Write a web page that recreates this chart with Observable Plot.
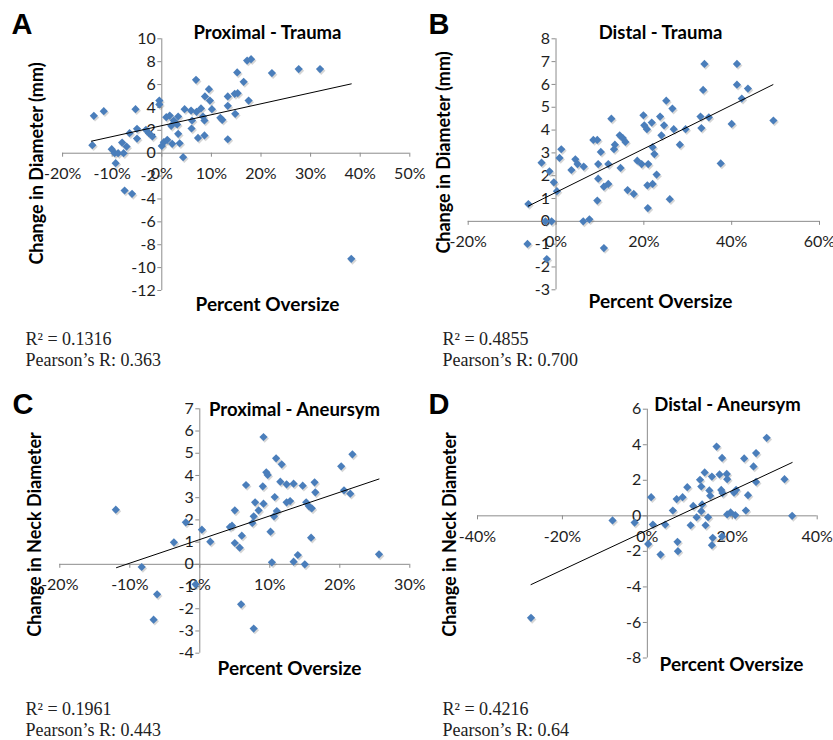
<!DOCTYPE html>
<html>
<head>
<meta charset="utf-8">
<script src="https://cdn.jsdelivr.net/npm/d3@7"></script>
<script src="https://cdn.jsdelivr.net/npm/@observablehq/plot@0.6"></script>
<style>
  body { margin: 0; background: #fff; }
  #chart { position: relative; width: 833px; height: 740px; overflow: hidden; background: #fff; }
  #chart > div { position: absolute; }
</style>
</head>
<body>
<div id="chart"></div>
<script>
// ---------- DATA ----------
// A: Proximal - Trauma (x = percent oversize, y = change in diameter, mm)
const proxTraumaX = [-13.7,-11.7,-14.0,-10.1,-9.5,-8.8,-9.3,-8.0,-7.1,-7.7,-6.5,-5.3,-5.0,-5.0,-3.2,-2.6,-1.9,-0.5,-0.5,0.0,0.4,0.9,1.6,1.9,1.1,2.1,2.4,3.1,3.3,3.3,3.6,4.3,4.6,5.9,6.0,6.1,6.9,7.0,7.3,7.9,8.3,8.6,8.7,8.6,9.5,9.7,10.1,11.8,12.2,13.3,13.3,13.3,14.7,15.3,14.8,15.2,16.5,17.2,18.0,17.5,22.2,27.6,31.9,-7.5,-6.0,38.2];
const proxTraumaY = [3.27,3.67,0.70,0.35,0.0,0.0,-0.87,0.93,0.58,0.0,1.75,3.85,2.13,1.28,2.04,1.75,1.46,4.6,4.26,0.64,0.96,3.15,3.29,2.39,1.17,0.82,2.86,2.51,3.21,1.69,0.87,-0.35,3.85,3.73,2.16,2.86,6.41,3.62,1.34,3.91,3.21,1.55,4.96,2.86,5.6,4.6,3.85,3.09,2.92,4.14,4.96,1.22,5.19,5.25,3.44,7.06,6.24,8.1,8.22,4.6,7.0,7.35,7.35,-3.26,-3.55,-9.23];
const proxTraumaFitX = [-14.2, 38.2];
const proxTraumaFitY = [1.05, 6.06];
const proxTraumaXTicks = [-20,-10,0,10,20,30,40,50];
const proxTraumaYTicks = [-12,-10,-8,-6,-4,-2,0,2,4,6,8,10];
const proxTraumaStats = ["R² = 0.1316", "Pearson’s R: 0.363"];

// B: Distal - Trauma
const distTraumaX = [-3.3,-1.5,-0.5,0.2,0.8,1.2,3.5,4.4,4.9,6.3,8.5,9.4,9.6,10.2,9.6,10.9,11.9,11.9,12.6,13.2,13.4,14.5,15.2,15.8,14.7,16.3,17.7,18.5,19.5,19.9,20.1,20.7,21.0,21.8,22.0,22.4,20.8,22.0,22.9,23.7,24.6,24.0,25.1,26.5,26.8,28.2,29.5,25.9,32.9,33.1,33.5,33.8,34.8,37.5,40.0,41.2,41.2,42.3,43.7,49.5,-6.3,-2.4,-1.0,-6.5,-2.1,9.4,6.2,7.6,10.9,20.9];
const distTraumaY = [2.57,2.19,1.71,1.32,2.78,3.16,2.25,2.72,2.51,2.40,3.57,3.57,2.51,3.04,1.87,1.52,1.64,2.51,4.50,3.16,3.36,3.77,3.65,3.48,2.34,1.37,1.20,2.66,2.51,4.65,4.21,4.04,2.51,4.33,3.25,2.95,1.58,1.64,2.05,4.59,4.21,3.77,5.29,4.94,4.04,3.36,4.04,0.97,4.59,4.09,5.76,6.90,4.56,2.54,4.27,6.90,5.99,5.38,5.82,4.42,0.76,0.0,0.0,-0.99,-1.65,0.91,0.0,0.09,-1.17,0.58];
const distTraumaFitX = [-6.3, 49.4];
const distTraumaFitY = [0.67, 5.99];
const distTraumaXTicks = [-20,0,20,40,60];
const distTraumaYTicks = [-3,-2,-1,0,1,2,3,4,5,6,7,8];
const distTraumaStats = ["R² = 0.4855", "Pearson’s R: 0.700"];

// C: Proximal - Aneursym
const proxAneurX = [-12.0,-2.0,-3.7,0.3,1.5,4.3,4.6,5.0,5.0,5.7,6.0,6.6,7.5,7.7,7.9,8.4,9.0,9.1,9.1,9.5,9.7,10.1,10.3,10.7,10.6,10.9,11.0,11.5,11.7,12.4,12.4,12.9,13.4,13.4,14.0,14.7,15.0,15.2,15.6,16.0,15.9,16.4,16.5,20.2,20.6,21.5,21.8,25.6,-8.3,-6.1,-6.6,-0.6,5.9,7.7];
const proxAneurY = [2.46,1.89,0.99,1.56,1.02,1.68,1.74,2.43,0.96,0.75,1.29,3.57,1.86,2.16,2.79,2.43,3.51,2.73,5.73,4.14,4.02,1.47,0.09,3.03,2.16,4.77,2.40,3.72,4.50,3.60,2.79,2.85,3.63,0.12,0.42,3.54,0.0,2.79,2.61,2.52,1.20,3.69,3.24,4.41,3.33,3.18,4.95,0.45,-0.12,-1.35,-2.49,-0.90,-1.80,-2.89];
const proxAneurFitX = [-11.9, 25.6];
const proxAneurFitY = [-0.15, 3.84];
const proxAneurXTicks = [-20,-10,0,10,20,30];
const proxAneurYTicks = [-4,-3,-2,-1,0,1,2,3,4,5,6,7];
const proxAneurStats = ["R² = 0.1961", "Pearson’s R: 0.443"];

// D: Distal - Aneursym
const distAneurX = [-8.2,-3.0,0.9,1.3,0.2,3.1,4.2,6.0,6.9,8.3,7.1,7.2,9.4,10.2,10.8,11.6,12.4,12.7,12.9,12.7,13.5,13.7,14.3,14.6,14.8,15.2,15.2,15.4,16.3,17.0,17.4,17.6,17.7,17.6,18.7,18.8,18.8,19.6,20.4,20.7,20.9,22.8,23.2,23.7,25.0,25.6,25.6,28.1,32.3,34.1,-27.4];
const distAneurY = [-0.26,-0.38,1.05,-0.49,-1.58,-2.18,-0.49,0.30,0.94,1.05,-1.46,-1.99,1.61,-0.53,0.56,-0.08,2.03,1.65,0.64,0.26,2.44,-0.53,-0.08,1.43,1.13,2.21,-1.65,-1.24,3.90,2.33,1.46,3.26,1.28,-1.16,2.36,2.06,0.08,0.19,1.31,0.04,1.46,3.23,0.30,1.16,2.78,3.53,1.91,4.39,2.06,0.0,-5.74];
const distAneurFitX = [-27.4, 34.1];
const distAneurFitY = [-3.87, 3.0];
const distAneurXTicks = [-40,-20,0,20,40];
const distAneurYTicks = [-8,-6,-4,-2,0,2,4,6];
const distAneurStats = ["R² = 0.4216", "Pearson’s R: 0.64"];

const xAxisTitle = "Percent Oversize";

// ---------- LAYOUT / STYLE ----------
const markerColor = "#4A7EBB";
const axisColor = "#8c8c8c";
const textColor = "#1e1e1e";
const sansFont = "Lato, 'Open Sans', sans-serif";

const panels = [
  {letter: "A", title: "Proximal - Trauma", ylabel: "Change in Diameter (mm)",
   xs: proxTraumaX, ys: proxTraumaY, fitX: proxTraumaFitX, fitY: proxTraumaFitY,
   xTicks: proxTraumaXTicks, yTicks: proxTraumaYTicks, stats: proxTraumaStats,
   box: {left: 0, top: 0, width: 430, height: 370},
   xRange: [62.1, 409.3], yRange: [290, 38.3],
   letterPos: [11, 33], titlePos: [267, 38], ylabelPos: [37, 163], xlabelPos: [267, 310], statsPos: [25, 344]},
  {letter: "B", title: "Distal - Trauma", ylabel: "Change in Diameter (mm)",
   xs: distTraumaX, ys: distTraumaY, fitX: distTraumaFitX, fitY: distTraumaFitY,
   xTicks: distTraumaXTicks, yTicks: distTraumaYTicks, stats: distTraumaStats,
   box: {left: 430, top: 0, width: 403, height: 370},
   xRange: [37.7, 389], yRange: [289.3, 38.3],
   letterPos: [-2, 33], titlePos: [230, 38], ylabelPos: [14, 152], xlabelPos: [230, 307], statsPos: [12, 344]},
  {letter: "C", title: "Proximal - Aneursym", ylabel: "Change in Neck Diameter",
   xs: proxAneurX, ys: proxAneurY, fitX: proxAneurFitX, fitY: proxAneurFitY,
   xTicks: proxAneurXTicks, yTicks: proxAneurYTicks, stats: proxAneurStats,
   box: {left: 0, top: 370, width: 430, height: 370},
   xRange: [59.3, 409.3], yRange: [282.7, 38.3],
   letterPos: [12, 43], titlePos: [294, 45], ylabelPos: [35, 164], xlabelPos: [289, 304], statsPos: [25, 344]},
  {letter: "D", title: "Distal - Aneursym", ylabel: "Change in Neck Diameter",
   xs: distAneurX, ys: distAneurY, fitX: distAneurFitX, fitY: distAneurFitY,
   xTicks: distAneurXTicks, yTicks: distAneurYTicks, stats: distAneurStats,
   box: {left: 430, top: 370, width: 403, height: 370},
   xRange: [47, 386.7], yRange: [287.5, 38.7],
   letterPos: [-2, 43], titlePos: [297, 40], ylabelPos: [20, 164], xlabelPos: [301, 300], statsPos: [12, 344]}
];

function place(text, x, y, opts) {
  return Plot.text([text], {frameAnchor: "top-left", dx: x, dy: y, text: d => d, fill: textColor, ...opts});
}

function drawPanel(p) {
  const pts = p.xs.map((x, i) => ({x, y: p.ys[i]}));
  const fit = p.fitX.map((x, i) => ({x, y: p.fitY[i]}));
  const xmin = p.xTicks[0], xmax = p.xTicks[p.xTicks.length - 1];
  const ymin = p.yTicks[0], ymax = p.yTicks[p.yTicks.length - 1];
  const svg = Plot.plot({
    width: p.box.width,
    height: p.box.height,
    marginTop: 0, marginRight: 0, marginBottom: 0, marginLeft: 0,
    style: {background: "transparent", overflow: "visible"},
    x: {domain: [xmin, xmax], range: p.xRange, axis: null},
    y: {domain: [ymin, ymax], range: p.yRange, axis: null},
    marks: [
      // axes crossing at zero
      Plot.ruleY([0], {x1: xmin, x2: xmax, stroke: axisColor, strokeWidth: 1}),
      Plot.ruleX([0], {y1: ymin, y2: ymax, stroke: axisColor, strokeWidth: 1}),
      Plot.ruleX(p.xTicks, {x: d => d, y1: 0, y2: 0, insetTop: 0, insetBottom: -4, stroke: axisColor}),
      Plot.ruleY(p.yTicks, {y: d => d, x1: 0, x2: 0, insetLeft: -4, insetRight: 0, stroke: axisColor}),
      Plot.text(p.xTicks, {x: d => d, y: 0, text: d => `${d}%`, dy: 21, lineAnchor: "middle",
        fontFamily: sansFont, fontSize: 16, fill: textColor}),
      Plot.text(p.yTicks, {x: 0, y: d => d, text: d => String(d), dx: -6, textAnchor: "end", lineAnchor: "middle",
        fontFamily: sansFont, fontSize: 16, fill: textColor}),
      // markers with soft shadow
      Plot.dot(pts, {x: "x", y: "y", symbol: "diamond2", r: 3.8, fill: "#777", fillOpacity: 0.3, stroke: "none", dx: 1.2, dy: 1.6}),
      Plot.dot(pts, {x: "x", y: "y", symbol: "diamond2", r: 3.7, fill: markerColor, stroke: "none"}),
      // linear trendline
      Plot.line(fit, {x: "x", y: "y", stroke: "#000", strokeWidth: 1}),
      // texts
      place(p.letter, p.letterPos[0], p.letterPos[1], {fontFamily: "'Liberation Sans', Arial, sans-serif", fontWeight: "bold", fontSize: 29, textAnchor: "start", lineAnchor: "bottom", fill: "#000"}),
      place(p.title, p.titlePos[0], p.titlePos[1], {fontFamily: sansFont, fontWeight: "bold", fontSize: 18.5, textAnchor: "middle", lineAnchor: "bottom", fill: "#000"}),
      place(p.ylabel, p.ylabelPos[0], p.ylabelPos[1], {fontFamily: sansFont, fontWeight: "bold", fontSize: 18, textAnchor: "middle", lineAnchor: "middle", rotate: -90, fill: "#000"}),
      place(xAxisTitle, p.xlabelPos[0], p.xlabelPos[1], {fontFamily: sansFont, fontWeight: "bold", fontSize: 19, textAnchor: "middle", lineAnchor: "bottom", fill: "#000"}),
      place(p.stats[0], p.statsPos[0], p.statsPos[1], {fontFamily: "'Liberation Serif', 'Times New Roman', serif", fontSize: 18, textAnchor: "start", lineAnchor: "bottom", fill: "#222"}),
      place(p.stats[1], p.statsPos[0], p.statsPos[1] + 21, {fontFamily: "'Liberation Serif', 'Times New Roman', serif", fontSize: 18, textAnchor: "start", lineAnchor: "bottom", fill: "#222"})
    ]
  });
  const wrap = document.createElement("div");
  wrap.style.left = p.box.left + "px";
  wrap.style.top = p.box.top + "px";
  wrap.style.width = p.box.width + "px";
  wrap.style.height = p.box.height + "px";
  wrap.appendChild(svg);
  document.getElementById("chart").appendChild(wrap);
}

panels.forEach(drawPanel);
</script>
</body>
</html>
